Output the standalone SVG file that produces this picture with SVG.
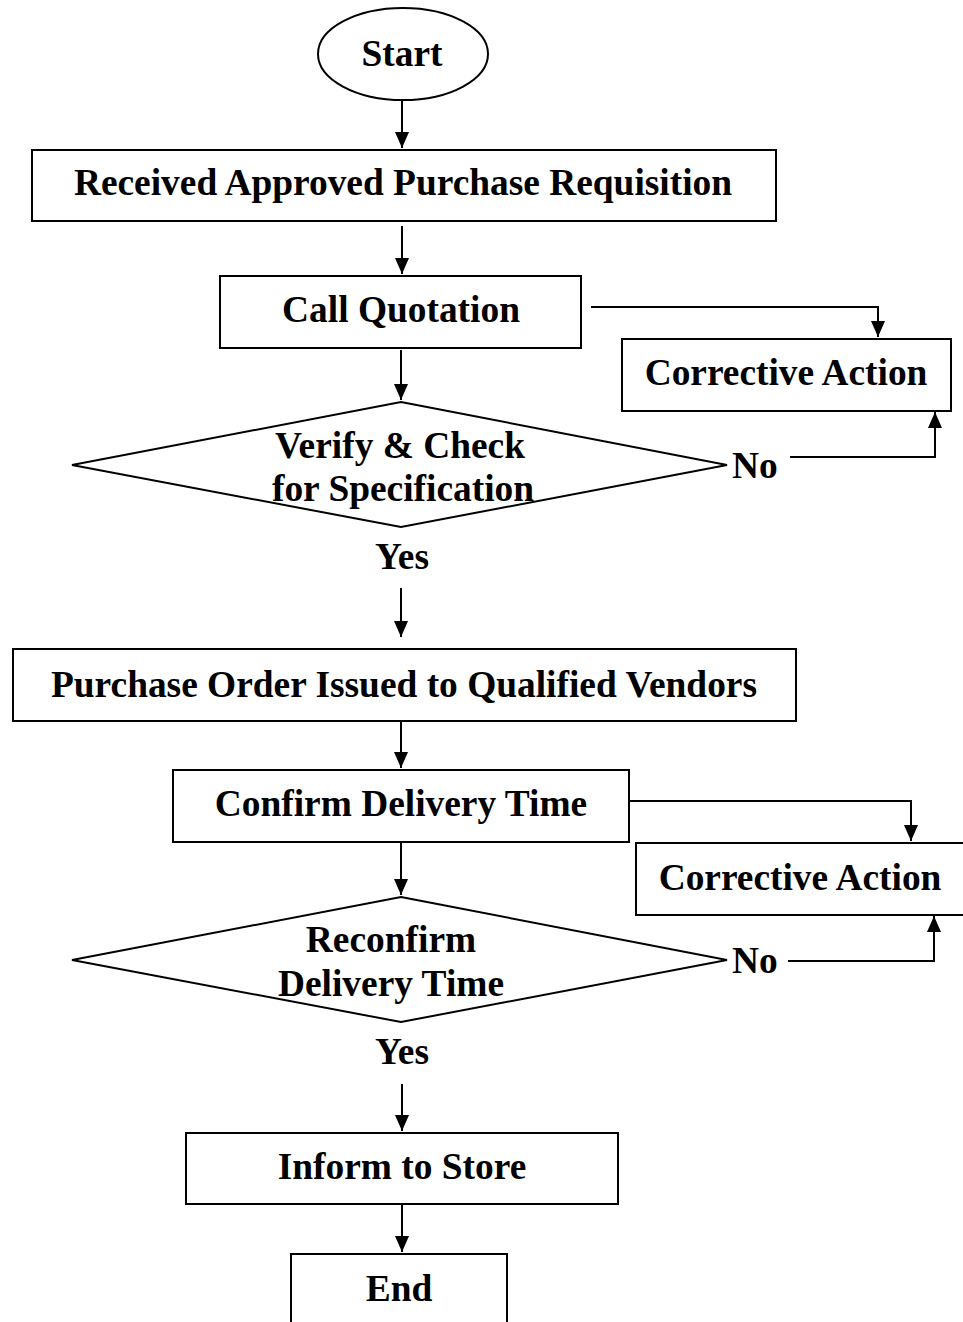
<svg xmlns="http://www.w3.org/2000/svg" width="963" height="1322" viewBox="0 0 963 1322">
<style>
.s{fill:#fff;stroke:#000;stroke-width:2}
.t{font-family:"Liberation Serif","Times New Roman",serif;font-weight:bold;font-size:37.4px;fill:#000;text-anchor:middle}
.l{fill:none;stroke:#000;stroke-width:2}
</style>
<defs>
<marker id="a" viewBox="0 0 16 14" refX="16" refY="7" markerWidth="16" markerHeight="14" markerUnits="userSpaceOnUse" orient="auto">
<path d="M0,0 L16,7 L0,14 Z" fill="#000"/>
</marker>
</defs>
<rect width="963" height="1322" fill="#fff"/>
<g id="connectors">
<line class="l" x1="402" y1="100" x2="402" y2="148" marker-end="url(#a)"/>
<line class="l" x1="402" y1="226" x2="402" y2="274" marker-end="url(#a)"/>
<polyline class="l" points="591,307 878,307 878,337" marker-end="url(#a)"/>
<line class="l" x1="401" y1="350" x2="401" y2="400" marker-end="url(#a)"/>
<polyline class="l" points="790,457 935,457 935,412" marker-end="url(#a)"/>
<line class="l" x1="401" y1="588" x2="401" y2="637" marker-end="url(#a)"/>
<line class="l" x1="401" y1="721" x2="401" y2="768" marker-end="url(#a)"/>
<polyline class="l" points="622,801 911,801 911,841" marker-end="url(#a)"/>
<line class="l" x1="401" y1="843" x2="401" y2="895" marker-end="url(#a)"/>
<polyline class="l" points="788,961 934,961 934,916" marker-end="url(#a)"/>
<line class="l" x1="402" y1="1084" x2="402" y2="1131" marker-end="url(#a)"/>
<line class="l" x1="402" y1="1205" x2="402" y2="1252" marker-end="url(#a)"/>
</g>
<g id="start">
<ellipse class="s" cx="403" cy="54" rx="85" ry="46"/>
<text class="t" x="402" y="66">Start</text>
</g>
<g id="received">
<rect class="s" x="32" y="150" width="744" height="71"/>
<text class="t" x="403" y="195">Received Approved Purchase Requisition</text>
</g>
<g id="call">
<rect class="s" x="220" y="276" width="361" height="72"/>
<text class="t" x="401" y="322">Call Quotation</text>
</g>
<g id="corrective1">
<rect class="s" x="622" y="339" width="329" height="72"/>
<text class="t" x="786" y="385">Corrective Action</text>
</g>
<g id="verify">
<polygon class="s" points="401,402 727,465 401,527 72,465"/>
<text class="t" x="400" y="458">Verify &amp; Check</text>
<text class="t" x="403" y="501">for Specification</text>
<text class="t" x="732" y="478" style="text-anchor:start">No</text>
<text class="t" x="402" y="569">Yes</text>
</g>
<g id="purchase">
<rect class="s" x="13" y="649" width="783" height="72"/>
<text class="t" x="404" y="697">Purchase Order Issued to Qualified Vendors</text>
</g>
<g id="confirm">
<rect class="s" x="173" y="770" width="456" height="72"/>
<text class="t" x="401" y="816">Confirm Delivery Time</text>
</g>
<g id="corrective2">
<rect class="s" x="636" y="843" width="340" height="72"/>
<text class="t" x="800" y="890">Corrective Action</text>
</g>
<g id="reconfirm">
<polygon class="s" points="401,897 727,960 401,1022 72,960"/>
<text class="t" x="391" y="952">Reconfirm</text>
<text class="t" x="391" y="996">Delivery Time</text>
<text class="t" x="732" y="973" style="text-anchor:start">No</text>
<text class="t" x="402" y="1064">Yes</text>
</g>
<g id="inform">
<rect class="s" x="186" y="1133" width="432" height="71"/>
<text class="t" x="402" y="1179">Inform to Store</text>
</g>
<g id="end">
<rect class="s" x="291" y="1254" width="216" height="90"/>
<text class="t" x="399" y="1301">End</text>
</g>
</svg>
